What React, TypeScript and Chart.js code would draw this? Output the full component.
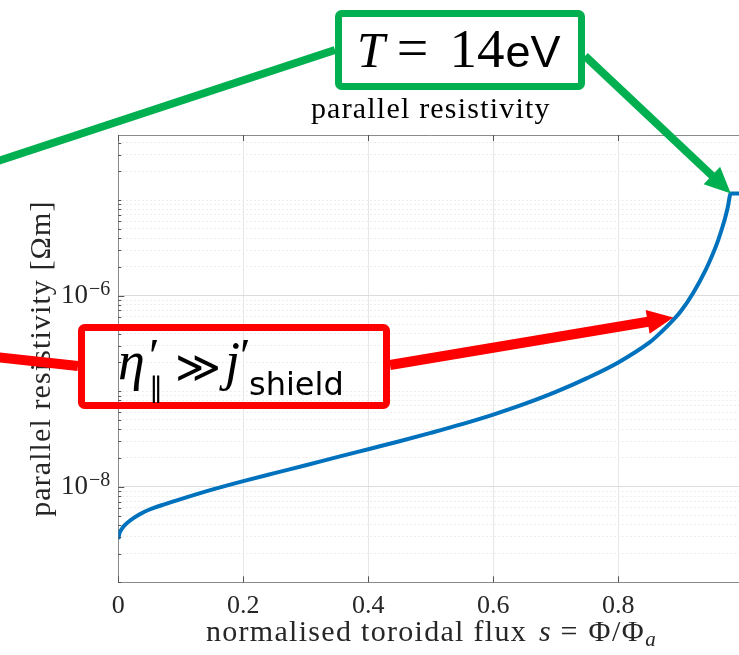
import { useEffect, useRef } from "react";
import { Chart, registerables } from "chart.js";

Chart.register(...registerables);

// normalised toroidal flux s and the parallel resistivity profile (Ohm m)
const fluxS = [
  0, 0.002, 0.005, 0.01, 0.02, 0.035, 0.05, 0.075, 0.1, 0.15,
  0.2, 0.25, 0.3, 0.35, 0.4, 0.45, 0.5, 0.55, 0.6, 0.65,
  0.7, 0.75, 0.8, 0.85, 0.86, 0.88, 0.9, 0.92, 0.94, 0.95,
  0.96, 0.97, 0.975, 0.98, 0.99, 1.0,
];
const etaPar = [
  2.84e-9, 3.29e-9, 3.57e-9, 3.94e-9, 4.49e-9, 5.19e-9, 5.78e-9, 6.59e-9, 7.43e-9, 9.33e-9,
  1.146e-8, 1.39e-8, 1.68e-8, 2.04e-8, 2.47e-8, 2.99e-8, 3.66e-8, 4.52e-8, 5.69e-8, 7.35e-8,
  9.82e-8, 1.37e-7, 2.0e-7, 3.24e-7, 3.68e-7, 4.91e-7, 6.85e-7, 1.07e-6, 1.87e-6, 2.61e-6,
  3.84e-6, 6.18e-6, 8.32e-6, 1.175e-5, 1.175e-5, 1.175e-5,
];

// axes
const xMin = 0;
const xMax = 1;
const xTickValues = [0, 0.2, 0.4, 0.6, 0.8, 1];
const xTickLabels = ["0", "0.2", "0.4", "0.6", "0.8", "1"];
const yMin = 1e-9;
const yMax = 4.8e-5;
const yLabelledExponents = [-8, -6];
const yDecadeExponents = [-9, -8, -7, -6, -5];

// text
const titleText = "parallel resistivity";
const yTitleText = "parallel resistivity [\u03A9m]";

// points the callouts aim at (s, resistivity)
const tempCalloutTip = [0.98, 1.175e-5];
const gradCalloutTip = [0.888, 5.9e-7];

const SERIF = '"Liberation Serif", "DejaVu Serif", serif';
const SANS = '"Liberation Sans", Arial, sans-serif';
const DSANS = '"DejaVu Sans", sans-serif';

const majorYValues = yLabelledExponents.map((e) => Math.pow(10, e));
const minorYValues: number[] = [];
for (const e of yDecadeExponents) {
  for (let m = 1; m <= 9; m++) {
    const v = m * Math.pow(10, e);
    if (v < yMin * 0.999 || v > yMax) continue;
    if (m === 1 && yLabelledExponents.includes(e)) continue;
    minorYValues.push(v);
  }
}

type Run = { text: string; font: string; dy?: number; gap?: number; spacing?: string };

function runWidth(ctx: CanvasRenderingContext2D, runs: Run[]) {
  let w = 0;
  for (const r of runs) {
    ctx.font = r.font;
    (ctx as any).letterSpacing = r.spacing || "0px";
    w += ctx.measureText(r.text).width + (r.gap || 0);
  }
  return w;
}

function drawRuns(ctx: CanvasRenderingContext2D, runs: Run[], x: number, y: number) {
  let cx = x;
  for (const r of runs) {
    ctx.font = r.font;
    (ctx as any).letterSpacing = r.spacing || "0px";
    ctx.fillText(r.text, cx, y + (r.dy || 0));
    cx += ctx.measureText(r.text).width + (r.gap || 0);
  }
  (ctx as any).letterSpacing = "0px";
}

function arrow(
  ctx: CanvasRenderingContext2D,
  x0: number, y0: number, x1: number, y1: number,
  color: string, width: number, headLen: number, headHalf: number
) {
  const ang = Math.atan2(y1 - y0, x1 - x0);
  const bx = x1 - headLen * Math.cos(ang);
  const by = y1 - headLen * Math.sin(ang);
  ctx.strokeStyle = color;
  ctx.lineWidth = width;
  ctx.lineCap = "butt";
  ctx.beginPath();
  ctx.moveTo(x0, y0);
  ctx.lineTo(bx + Math.cos(ang) * 2, by + Math.sin(ang) * 2);
  ctx.stroke();
  ctx.fillStyle = color;
  ctx.beginPath();
  ctx.moveTo(x1, y1);
  ctx.lineTo(bx - headHalf * Math.sin(ang), by + headHalf * Math.cos(ang));
  ctx.lineTo(bx + headHalf * Math.sin(ang), by - headHalf * Math.cos(ang));
  ctx.closePath();
  ctx.fill();
}

function roundRect(ctx: CanvasRenderingContext2D, x: number, y: number, w: number, h: number, r: number) {
  ctx.beginPath();
  ctx.moveTo(x + r, y);
  ctx.lineTo(x + w - r, y);
  ctx.arcTo(x + w, y, x + w, y + r, r);
  ctx.lineTo(x + w, y + h - r);
  ctx.arcTo(x + w, y + h, x + w - r, y + h, r);
  ctx.lineTo(x + r, y + h);
  ctx.arcTo(x, y + h, x, y + h - r, r);
  ctx.lineTo(x, y + r);
  ctx.arcTo(x, y, x + r, y, r);
  ctx.closePath();
}

const decorations = {
  id: "decorations",
  afterDraw(chart: any) {
    const ctx: CanvasRenderingContext2D = chart.ctx;
    const area = chart.chartArea;
    const xs = chart.scales.x;
    const ys = chart.scales.y;
    ctx.save();

    // axes box
    ctx.strokeStyle = "#8a8a8a";
    ctx.lineWidth = 1;
    ctx.beginPath();
    ctx.moveTo(area.left, area.top + 0.5);
    ctx.lineTo(area.right, area.top + 0.5);
    ctx.moveTo(area.right - 0.5, area.top);
    ctx.lineTo(area.right - 0.5, area.bottom);
    ctx.stroke();

    // inward tick marks
    ctx.strokeStyle = "#555";
    ctx.beginPath();
    for (const v of xTickValues) {
      const px = Math.round(xs.getPixelForValue(v)) + 0.5;
      ctx.moveTo(px, area.bottom);
      ctx.lineTo(px, area.bottom - 6);
      ctx.moveTo(px, area.top);
      ctx.lineTo(px, area.top + 6);
    }
    for (const v of majorYValues) {
      const py = Math.round(ys.getPixelForValue(v)) + 0.5;
      ctx.moveTo(area.left, py);
      ctx.lineTo(area.left + 6, py);
    }
    for (const v of minorYValues) {
      const py = Math.round(ys.getPixelForValue(v)) + 0.5;
      ctx.moveTo(area.left, py);
      ctx.lineTo(area.left + 3, py);
    }
    ctx.stroke();

    ctx.fillStyle = "#262626";
    ctx.textBaseline = "alphabetic";

    // x tick labels
    ctx.textAlign = "center";
    ctx.font = `26px ${SERIF}`;
    xTickValues.forEach((v, i) => {
      ctx.fillText(xTickLabels[i], xs.getPixelForValue(v), area.bottom + 31);
    });

    // y tick labels 10^n
    ctx.textAlign = "left";
    for (const e of yLabelledExponents) {
      const py = ys.getPixelForValue(Math.pow(10, e));
      const runs: Run[] = [
        { text: "10", font: `27px ${SERIF}`, gap: 1 },
        { text: "\u2212" + Math.abs(e), font: `20px ${SERIF}`, dy: -8.5 },
      ];
      const w = runWidth(ctx, runs);
      drawRuns(ctx, runs, area.left - 8 - w, py + 7.5);
    }

    const cx = (area.left + area.right) / 2;
    const cy = (area.top + area.bottom) / 2;

    // title
    ctx.fillStyle = "#000";
    (ctx as any).letterSpacing = "1.2px";
    ctx.textAlign = "center";
    ctx.font = `30px ${SERIF}`;
    ctx.fillText(titleText, cx, area.top - 17);
    (ctx as any).letterSpacing = "0px";

    // x axis title with italic s and subscript a
    ctx.fillStyle = "#262626";
    ctx.textAlign = "left";
    const xRuns: Run[] = [
      { text: "normalised toroidal flux ", font: `30px ${SERIF}`, spacing: "1.3px", gap: 3 },
      { text: "s", font: `italic 30px ${SERIF}`, gap: 10 },
      { text: "=", font: `30px ${SERIF}`, gap: 11 },
      { text: "\u03A6/\u03A6", font: `30px ${SERIF}`, spacing: "1.5px" },
      { text: "a", font: `italic 21px ${SERIF}`, dy: 5 },
    ];
    const xw = runWidth(ctx, xRuns);
    drawRuns(ctx, xRuns, cx - xw / 2, area.bottom + 59);

    // y axis title
    ctx.save();
    ctx.translate(area.left - 68, cy);
    ctx.rotate(-Math.PI / 2);
    ctx.textAlign = "center";
    ctx.font = `30px ${SERIF}`;
    (ctx as any).letterSpacing = "1.1px";
    ctx.fillText(yTitleText, 0, 0);
    (ctx as any).letterSpacing = "0px";
    ctx.restore();

    // temperature callout
    const green = "#00b050";
    const gTipX = xs.getPixelForValue(tempCalloutTip[0]);
    const gTipY = ys.getPixelForValue(tempCalloutTip[1]);
    ctx.strokeStyle = green;
    ctx.lineWidth = 8;
    ctx.beginPath();
    ctx.moveTo(-5, 162);
    ctx.lineTo(335, 50);
    ctx.stroke();
    arrow(ctx, 585, 56, gTipX, gTipY, green, 8, 26, 12);
    ctx.lineWidth = 7;
    roundRect(ctx, 338.5, 13.5, 243, 73, 3);
    ctx.stroke();
    ctx.fillStyle = "#000";
    ctx.textAlign = "left";
    const tRuns: Run[] = [
      { text: "T", font: `italic 50px ${SERIF}`, gap: 12 },
      { text: "=", font: `56px ${SERIF}`, gap: 21 },
      { text: "14", font: `55px ${SERIF}`, gap: 1 },
      { text: "eV", font: `45px ${SANS}` },
    ];
    drawRuns(ctx, tRuns, 357, 67);

    // gradient callout
    const red = "#ff0000";
    const rTipX = xs.getPixelForValue(gradCalloutTip[0]);
    const rTipY = ys.getPixelForValue(gradCalloutTip[1]);
    ctx.strokeStyle = red;
    ctx.lineWidth = 10;
    ctx.beginPath();
    ctx.moveTo(-5, 357);
    ctx.lineTo(78, 366);
    ctx.stroke();
    arrow(ctx, 390, 365, rTipX, rTipY, red, 10, 26, 12);
    ctx.lineWidth = 7;
    roundRect(ctx, 81.5, 327.5, 305, 78, 3);
    ctx.stroke();

    ctx.fillStyle = "#000";
    ctx.font = `italic 54px ${SERIF}`;
    ctx.fillText("\u03B7", 118, 379);
    ctx.font = `48px ${SERIF}`;
    ctx.fillText("\u2032", 149, 372);
    ctx.font = `28px ${DSANS}`;
    ctx.fillText("\u2225", 149, 397);
    ctx.font = `44px ${SANS}`;
    ctx.fillText("\u226B", 175, 382);
    ctx.font = `italic 54px ${SERIF}`;
    ctx.fillText("j", 225, 379);
    ctx.font = `48px ${SERIF}`;
    ctx.fillText("\u2032", 240, 372);
    ctx.font = `32px ${DSANS}`;
    ctx.fillText("shield", 249, 395);

    ctx.restore();
  },
};

export default function App() {
  const canvasRef = useRef<HTMLCanvasElement | null>(null);

  useEffect(() => {
    const canvas = canvasRef.current;
    if (!canvas) return;
    const chart = new Chart(canvas, {
      type: "line",
      data: {
        datasets: [
          {
            data: fluxS.map((s, i) => ({ x: s, y: etaPar[i] })),
            borderColor: "#0072BD",
            borderWidth: 4,
            pointRadius: 0,
            fill: false,
            cubicInterpolationMode: "monotone",
            yAxisID: "y",
          },
        ],
      },
      options: {
        responsive: false,
        maintainAspectRatio: false,
        devicePixelRatio: 1,
        animation: false,
        events: [],
        layout: { padding: { left: 0, top: 135, right: 16.7, bottom: 0 } },
        plugins: { legend: { display: false }, tooltip: { enabled: false }, title: { display: false } },
        scales: {
          x: {
            type: "linear",
            min: xMin,
            max: xMax,
            afterBuildTicks: (axis: any) => {
              axis.ticks = xTickValues.map((v) => ({ value: v }));
            },
            afterFit: (axis: any) => {
              axis.height = 72.7;
            },
            ticks: { display: false },
            grid: { color: "#e6e6e6", lineWidth: 1, drawTicks: false },
            border: { display: true, color: "#8a8a8a", width: 1 },
          },
          yMinor: {
            type: "logarithmic",
            position: "left",
            min: yMin,
            max: yMax,
            afterBuildTicks: (axis: any) => {
              axis.ticks = minorYValues.map((v) => ({ value: v }));
            },
            afterFit: (axis: any) => {
              axis.width = 0;
            },
            ticks: { display: false },
            grid: { color: "#eeeeee", lineWidth: 1, drawTicks: false },
            border: { display: false, dash: [2, 2] },
          },
          y: {
            type: "logarithmic",
            position: "left",
            min: yMin,
            max: yMax,
            afterBuildTicks: (axis: any) => {
              axis.ticks = majorYValues.map((v) => ({ value: v }));
            },
            afterFit: (axis: any) => {
              axis.width = 118.3;
            },
            ticks: { display: false },
            grid: { color: "#dcdcdc", lineWidth: 1, drawTicks: false },
            border: { display: true, color: "#8a8a8a", width: 1 },
          },
        },
      },
      plugins: [decorations],
    });
    return () => chart.destroy();
  }, []);

  return (
    <div
      style={{
        position: "fixed",
        left: 0,
        top: 0,
        width: 739,
        height: 655,
        overflow: "hidden",
        background: "#fff",
      }}
    >
      <canvas ref={canvasRef} width={760} height={655} style={{ display: "block" }} />
    </div>
  );
}
